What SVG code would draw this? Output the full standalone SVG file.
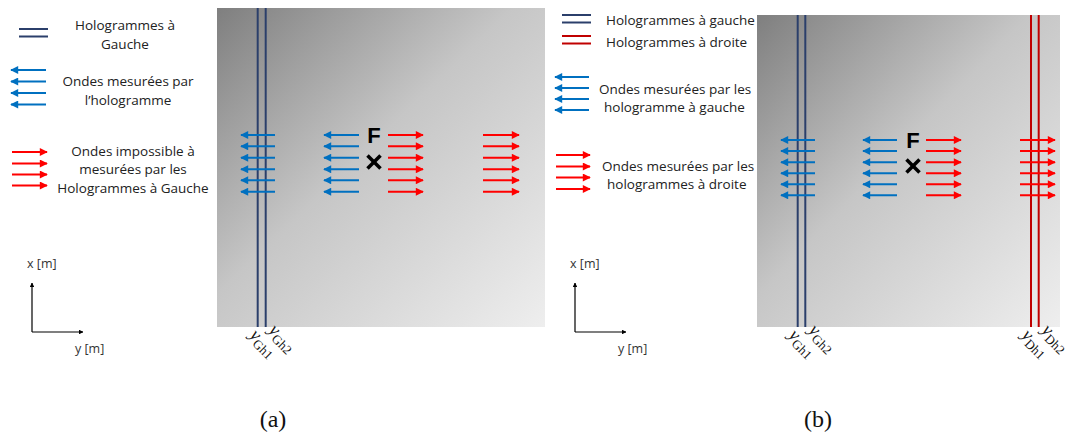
<svg xmlns="http://www.w3.org/2000/svg" width="1073" height="434" viewBox="0 0 1073 434">
<defs>
<linearGradient id="bg" x1="0" y1="0" x2="1" y2="1">
<stop offset="0" stop-color="#7f7f7f"/>
<stop offset="0.45" stop-color="#c6c6c6"/>
<stop offset="1" stop-color="#eeeeee"/>
</linearGradient>
<marker id="hb" viewBox="0 0 10 10" refX="9" refY="5" markerWidth="4.5" markerHeight="4" orient="auto"><path d="M0,0 L10,5 L0,10 z" fill="#0070C0"/></marker>
<marker id="hr" viewBox="0 0 10 10" refX="9" refY="5" markerWidth="4.5" markerHeight="4" orient="auto"><path d="M0,0 L10,5 L0,10 z" fill="#FF0000"/></marker>
<marker id="hk" viewBox="0 0 10 10" refX="9" refY="5" markerWidth="4" markerHeight="4" orient="auto"><path d="M0,0 L10,5 L0,10 z" fill="#000"/></marker>
</defs>
<style>
.t{font-family:"Open Sans","Liberation Sans",sans-serif;font-size:13.5px;fill:#222}
.ta{font-family:"Open Sans","Liberation Sans",sans-serif;font-size:12.5px;fill:#333}
.bl{stroke:#0070C0;stroke-width:2;marker-end:url(#hb)}
.rd{stroke:#FF0000;stroke-width:2;marker-end:url(#hr)}
.nv{stroke:#2B3F6B;stroke-width:2}
.rh{stroke:#C00000;stroke-width:2}
.ax{stroke:#000;stroke-width:1.2;marker-end:url(#hk)}
.F{font-family:"Liberation Sans",sans-serif;font-weight:bold;font-size:22px;fill:#000}
.X{stroke:#000;stroke-width:3.5}
.lab{font-family:"Liberation Serif",serif;font-style:italic;font-size:18px;fill:#111}
.sub{font-size:13px;font-style:normal}
.cap{font-family:"Liberation Serif","DejaVu Serif",serif;font-size:24px;fill:#111}
</style>

<g id="panel-a-bg"><rect x="217" y="8" width="328" height="319" fill="url(#bg)"/></g>
<g id="panel-b-bg"><rect x="757" y="15" width="303" height="312" fill="url(#bg)"/></g>

<g id="legend-a">
<line class="nv" x1="19" y1="29" x2="48" y2="29"/>
<line class="nv" x1="19" y1="36.5" x2="48" y2="36.5"/>
<text class="t" x="125" y="30" text-anchor="middle">Hologrammes à</text>
<text class="t" x="125" y="49" text-anchor="middle">Gauche</text>
<line class="bl" x1="46" y1="70" x2="11" y2="70"/>
<line class="bl" x1="46" y1="81.5" x2="11" y2="81.5"/>
<line class="bl" x1="46" y1="93" x2="11" y2="93"/>
<line class="bl" x1="46" y1="104.5" x2="11" y2="104.5"/>
<text class="t" x="128" y="86" text-anchor="middle">Ondes mesurées par</text>
<text class="t" x="128" y="105" text-anchor="middle">l’hologramme</text>
<line class="rd" x1="12" y1="152" x2="47" y2="152"/>
<line class="rd" x1="12" y1="163.5" x2="47" y2="163.5"/>
<line class="rd" x1="12" y1="174.5" x2="47" y2="174.5"/>
<line class="rd" x1="12" y1="185.5" x2="47" y2="185.5"/>
<text class="t" x="133" y="156" text-anchor="middle">Ondes impossible à</text>
<text class="t" x="133" y="174" text-anchor="middle">mesurées par les</text>
<text class="t" x="133" y="193" text-anchor="middle">Hologrammes à Gauche</text>
</g>

<g id="axes-a">
<line class="ax" x1="32" y1="332" x2="32" y2="283"/>
<line class="ax" x1="32" y1="332" x2="83" y2="332"/>
<text class="ta" x="27" y="268">x [m]</text>
<text class="ta" x="75" y="353">y [m]</text>
</g>

<g id="holograms-a">
<line class="nv" x1="257.7" y1="8" x2="257.7" y2="327"/>
<line class="nv" x1="265.7" y1="8" x2="265.7" y2="327"/>
</g>

<g id="connectors-a">
<g id="blue-left-a">
<line class="bl" x1="275" y1="135" x2="241" y2="135"/>
<line class="bl" x1="275" y1="146.3" x2="241" y2="146.3"/>
<line class="bl" x1="275" y1="157.7" x2="241" y2="157.7"/>
<line class="bl" x1="275" y1="169.3" x2="241" y2="169.3"/>
<line class="bl" x1="275" y1="180.3" x2="241" y2="180.3"/>
<line class="bl" x1="275" y1="191.7" x2="241" y2="191.7"/>
</g>
<g id="blue-mid-a">
<line class="bl" x1="359" y1="135" x2="324" y2="135"/>
<line class="bl" x1="359" y1="146.3" x2="324" y2="146.3"/>
<line class="bl" x1="359" y1="157.7" x2="324" y2="157.7"/>
<line class="bl" x1="359" y1="169.3" x2="324" y2="169.3"/>
<line class="bl" x1="359" y1="180.3" x2="324" y2="180.3"/>
<line class="bl" x1="359" y1="191.7" x2="324" y2="191.7"/>
</g>
<g id="red-mid-a">
<line class="rd" x1="388" y1="135" x2="423" y2="135"/>
<line class="rd" x1="388" y1="146.3" x2="423" y2="146.3"/>
<line class="rd" x1="388" y1="157.7" x2="423" y2="157.7"/>
<line class="rd" x1="388" y1="169.3" x2="423" y2="169.3"/>
<line class="rd" x1="388" y1="180.3" x2="423" y2="180.3"/>
<line class="rd" x1="388" y1="191.7" x2="423" y2="191.7"/>
</g>
<g id="red-right-a">
<line class="rd" x1="483" y1="135" x2="519" y2="135"/>
<line class="rd" x1="483" y1="146.3" x2="519" y2="146.3"/>
<line class="rd" x1="483" y1="157.7" x2="519" y2="157.7"/>
<line class="rd" x1="483" y1="169.3" x2="519" y2="169.3"/>
<line class="rd" x1="483" y1="180.3" x2="519" y2="180.3"/>
<line class="rd" x1="483" y1="191.7" x2="519" y2="191.7"/>
</g>
</g>

<g id="focus-a">
<text class="F" x="374" y="143" text-anchor="middle">F</text>
<line class="X" x1="367.5" y1="155.5" x2="380.5" y2="168.5"/>
<line class="X" x1="380.5" y1="155.5" x2="367.5" y2="168.5"/>
</g>

<g id="labels-a">
<text class="lab" transform="translate(249,336) rotate(45)">y<tspan class="sub" dy="4">Gh1</tspan></text>
<text class="lab" transform="translate(268,331) rotate(45)">y<tspan class="sub" dy="4">Gh2</tspan></text>
</g>

<text class="cap" x="273" y="427" text-anchor="middle">(a)</text>

<g id="legend-b">
<line class="nv" x1="562" y1="15" x2="591" y2="15"/>
<line class="nv" x1="562" y1="22.5" x2="591" y2="22.5"/>
<text class="t" x="606" y="25">Hologrammes à gauche</text>
<line class="rh" x1="562" y1="36" x2="591" y2="36"/>
<line class="rh" x1="562" y1="43.5" x2="591" y2="43.5"/>
<text class="t" x="606" y="47">Hologrammes à droite</text>
<line class="bl" x1="589" y1="77" x2="555" y2="77"/>
<line class="bl" x1="589" y1="88" x2="555" y2="88"/>
<line class="bl" x1="589" y1="99" x2="555" y2="99"/>
<line class="bl" x1="589" y1="110" x2="555" y2="110"/>
<text class="t" x="599" y="94">Ondes mesurées par les</text>
<text class="t" x="604" y="112">hologramme à gauche</text>
<line class="rd" x1="556" y1="155" x2="590" y2="155"/>
<line class="rd" x1="556" y1="166.5" x2="590" y2="166.5"/>
<line class="rd" x1="556" y1="177.5" x2="590" y2="177.5"/>
<line class="rd" x1="556" y1="189" x2="590" y2="189"/>
<text class="t" x="602" y="171">Ondes mesurées par les</text>
<text class="t" x="607" y="189">hologrammes à droite</text>
</g>

<g id="axes-b">
<line class="ax" x1="575" y1="332" x2="575" y2="283"/>
<line class="ax" x1="575" y1="332" x2="626" y2="332"/>
<text class="ta" x="570" y="268">x [m]</text>
<text class="ta" x="618" y="353">y [m]</text>
</g>

<g id="holograms-b">
<line class="nv" x1="797.7" y1="15" x2="797.7" y2="327"/>
<line class="nv" x1="805.3" y1="15" x2="805.3" y2="327"/>
<line class="rh" x1="1031" y1="15" x2="1031" y2="327"/>
<line class="rh" x1="1038.7" y1="15" x2="1038.7" y2="327"/>
</g>

<g id="connectors-b">
<g id="blue-left-b">
<line class="bl" x1="815" y1="140" x2="781" y2="140"/>
<line class="bl" x1="815" y1="151" x2="781" y2="151"/>
<line class="bl" x1="815" y1="162.3" x2="781" y2="162.3"/>
<line class="bl" x1="815" y1="173.3" x2="781" y2="173.3"/>
<line class="bl" x1="815" y1="184.3" x2="781" y2="184.3"/>
<line class="bl" x1="815" y1="195.3" x2="781" y2="195.3"/>
</g>
<g id="blue-mid-b">
<line class="bl" x1="897" y1="140" x2="863" y2="140"/>
<line class="bl" x1="897" y1="151" x2="863" y2="151"/>
<line class="bl" x1="897" y1="162.3" x2="863" y2="162.3"/>
<line class="bl" x1="897" y1="173.3" x2="863" y2="173.3"/>
<line class="bl" x1="897" y1="184.3" x2="863" y2="184.3"/>
<line class="bl" x1="897" y1="195.3" x2="863" y2="195.3"/>
</g>
<g id="red-mid-b">
<line class="rd" x1="926" y1="140" x2="961" y2="140"/>
<line class="rd" x1="926" y1="151" x2="961" y2="151"/>
<line class="rd" x1="926" y1="162.3" x2="961" y2="162.3"/>
<line class="rd" x1="926" y1="173.3" x2="961" y2="173.3"/>
<line class="rd" x1="926" y1="184.3" x2="961" y2="184.3"/>
<line class="rd" x1="926" y1="195.3" x2="961" y2="195.3"/>
</g>
<g id="red-right-b">
<line class="rd" x1="1020" y1="140" x2="1055" y2="140"/>
<line class="rd" x1="1020" y1="151" x2="1055" y2="151"/>
<line class="rd" x1="1020" y1="162.3" x2="1055" y2="162.3"/>
<line class="rd" x1="1020" y1="173.3" x2="1055" y2="173.3"/>
<line class="rd" x1="1020" y1="184.3" x2="1055" y2="184.3"/>
<line class="rd" x1="1020" y1="195.3" x2="1055" y2="195.3"/>
</g>
</g>

<g id="focus-b">
<text class="F" x="913" y="148" text-anchor="middle">F</text>
<line class="X" x1="906.5" y1="159.5" x2="919.5" y2="172.5"/>
<line class="X" x1="919.5" y1="159.5" x2="906.5" y2="172.5"/>
</g>

<g id="labels-b">
<text class="lab" transform="translate(788,336) rotate(45)">y<tspan class="sub" dy="4">Gh1</tspan></text>
<text class="lab" transform="translate(808,331) rotate(45)">y<tspan class="sub" dy="4">Gh2</tspan></text>
<text class="lab" transform="translate(1021,336) rotate(45)">y<tspan class="sub" dy="4">Dh1</tspan></text>
<text class="lab" transform="translate(1041,331) rotate(45)">y<tspan class="sub" dy="4">Dh2</tspan></text>
</g>

<text class="cap" x="818" y="427" text-anchor="middle">(b)</text>
</svg>
